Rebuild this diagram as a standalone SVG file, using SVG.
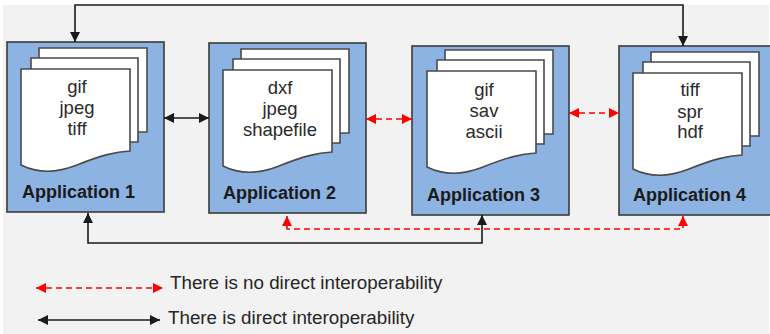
<svg xmlns="http://www.w3.org/2000/svg" xmlns:xlink="http://www.w3.org/1999/xlink" width="770" height="334" viewBox="0 0 770 334">
<style>
.box{fill:#8db3e2;stroke:#3a3a3a;stroke-width:1.6}
.page{fill:#ffffff;stroke:#4a4a4a;stroke-width:1.6}
.fmt{font-family:"Liberation Sans",Arial,sans-serif;font-size:18.5px;fill:#2a2a2a;text-anchor:middle}
.lbl{font-family:"Liberation Sans",Arial,sans-serif;font-size:18px;font-weight:bold;fill:#1a1a1a}
.leg{font-family:"Liberation Sans",Arial,sans-serif;font-size:18.8px;fill:#262626}
.blk{fill:none;stroke:#1a1a1a;stroke-width:1.6;marker-start:url(#ab);marker-end:url(#ab)}
.red{fill:none;stroke:#ff0000;stroke-width:1.6;stroke-dasharray:6 4;marker-start:url(#ar);marker-end:url(#ar)}
</style>
<defs>
<marker id="ab" viewBox="0 0 10 10" refX="10" refY="5" markerWidth="10" markerHeight="10" markerUnits="userSpaceOnUse" orient="auto-start-reverse"><path d="M0,0 L10,5 L0,10 z" fill="#1a1a1a"/></marker>
<marker id="ar" viewBox="0 0 10 10" refX="10" refY="5" markerWidth="10" markerHeight="10" markerUnits="userSpaceOnUse" orient="auto-start-reverse"><path d="M0,0 L10,5 L0,10 z" fill="#ff0000"/></marker>
<g id="stack">
<path class="page" d="M32,6 H140 V90 H32 Z"/>
<path class="page" d="M24,16 H131 V100 H24 Z"/>
<path class="page" d="M14,27 H123 V109 C108,110 95,113 70,123 C50,131 30,131 14,123 Z"/>
</g>
</defs>
<rect x="3" y="5" width="766" height="329" fill="#f2f2f2"/>
<g id="app1" transform="translate(7,42)">
<rect class="box" x="0" y="0" width="157" height="170"/>
<use xlink:href="#stack"/>
<text class="fmt" x="70" y="51">gif</text>
<text class="fmt" x="70" y="72">jpeg</text>
<text class="fmt" x="70" y="93">tiff</text>
<text class="lbl" x="15" y="156">Application 1</text>
</g>
<g id="app2" transform="translate(209,43)">
<rect class="box" x="0" y="0" width="157" height="170"/>
<use xlink:href="#stack"/>
<text class="fmt" x="71" y="51">dxf</text>
<text class="fmt" x="71" y="72">jpeg</text>
<text class="fmt" x="71" y="93">shapefile</text>
<text class="lbl" x="14" y="156">Application 2</text>
</g>
<g id="app3" transform="translate(412,46)">
<rect class="box" x="0" y="0" width="157" height="169"/>
<use xlink:href="#stack" transform="translate(1,-2)"/>
<text class="fmt" x="72" y="50">gif</text>
<text class="fmt" x="72" y="71">sav</text>
<text class="fmt" x="72" y="92">ascii</text>
<text class="lbl" x="15" y="155">Application 3</text>
</g>
<g id="app4" transform="translate(619,46)">
<rect class="box" x="0" y="0" width="157" height="169"/>
<use xlink:href="#stack"/>
<text class="fmt" x="71" y="50">tiff</text>
<text class="fmt" x="71" y="72">spr</text>
<text class="fmt" x="71" y="92">hdf</text>
<text class="lbl" x="14" y="155">Application 4</text>
</g>
<g id="connectors">
<path class="blk" d="M75,42 V5 H683 V46"/>
<path class="blk" d="M164,118 H209"/>
<path class="red" d="M366,119 H412"/>
<path class="red" d="M569,113 H619"/>
<path class="blk" d="M88,213 V243 H482 V215"/>
<path class="red" d="M287,216 V229 H683 V216"/>
</g>
<g id="legend">
<path class="red" d="M36,288 H163"/>
<text class="leg" x="170" y="289">There is no direct interoperability</text>
<path class="blk" d="M38,320 H160"/>
<text class="leg" x="168" y="324">There is direct interoperability</text>
</g>
</svg>
